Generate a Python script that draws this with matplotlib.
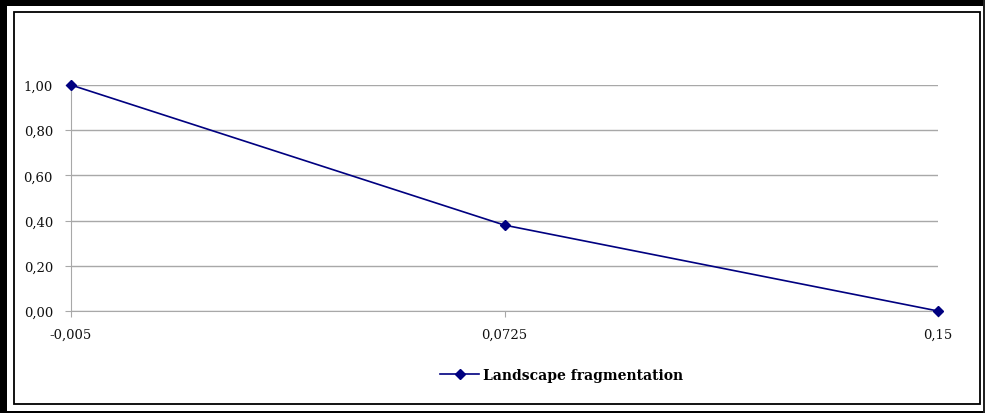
import matplotlib
matplotlib.use("Agg")
import matplotlib.pyplot as plt
from matplotlib.patches import Rectangle

x_values = [-0.005, 0.0725, 0.15]
y_values = [1.00, 0.38, 0.00]
x_labels = ["-0,005", "0,0725", "0,15"]
y_ticks = [0.0, 0.2, 0.4, 0.6, 0.8, 1.0]
y_labels = ["0,00", "0,20", "0,40", "0,60", "0,80", "1,00"]
series_name = "Landscape fragmentation"

plt.rcParams['font.family'] = ['DejaVu Serif']
W, H = 985, 414
fig = plt.figure(figsize=(W/100, H/100), dpi=100)
fig.patch.set_facecolor('white')

def px_rect(x0, y0, x1, y1, **kw):
    fig.add_artist(Rectangle((x0/W, 1-y1/H), (x1-x0)/W, (y1-y0)/H,
                             transform=fig.transFigure, **kw))
px_rect(0, 0, W, 7, color='black', lw=0)
px_rect(0, 0, 7, H, color='black', lw=0)
px_rect(0, 412, W, H, color='black', lw=0)
px_rect(983, 0, W, H, color='#222222', lw=0)
px_rect(14, 12.5, 980, 405, fill=False, edgecolor='black', lw=1.3)

ax = fig.add_axes([71/W, 1-312/H, (938-71)/W, (312-86)/H])
ax.set_facecolor('none')
ax.plot(x_values, y_values, color='#000080', lw=1.2, marker='D', ms=5,
        label=series_name, clip_on=False, zorder=3)
ax.set_xlim(x_values[0], x_values[-1])
ax.set_ylim(0, 1.0)
ax.set_yticks(y_ticks)
ax.set_yticklabels(y_labels)
ax.set_xticks(x_values)
ax.set_xticklabels(x_labels)
ax.yaxis.grid(True, color='#a8a8a8', lw=1)
ax.set_axisbelow(True)
for s in ['top', 'right']:
    ax.spines[s].set_visible(False)
ax.spines['left'].set_color('#a8a8a8')
ax.spines['bottom'].set_color('#a8a8a8')
ax.tick_params(axis='y', length=4, color='#a8a8a8', labelsize=9.5, pad=9,
               labelcolor='#111111')
ax.tick_params(axis='x', length=4, color='#a8a8a8', labelsize=9.5, pad=8,
               labelcolor='#111111')

leg = fig.legend(loc='center', bbox_to_anchor=(562/W, 1-376/H), frameon=False,
                 fontsize=10, handlelength=2.8, handletextpad=0.3)
for t in leg.get_texts():
    t.set_fontweight('bold')

fig.savefig('out.png', dpi=100)
